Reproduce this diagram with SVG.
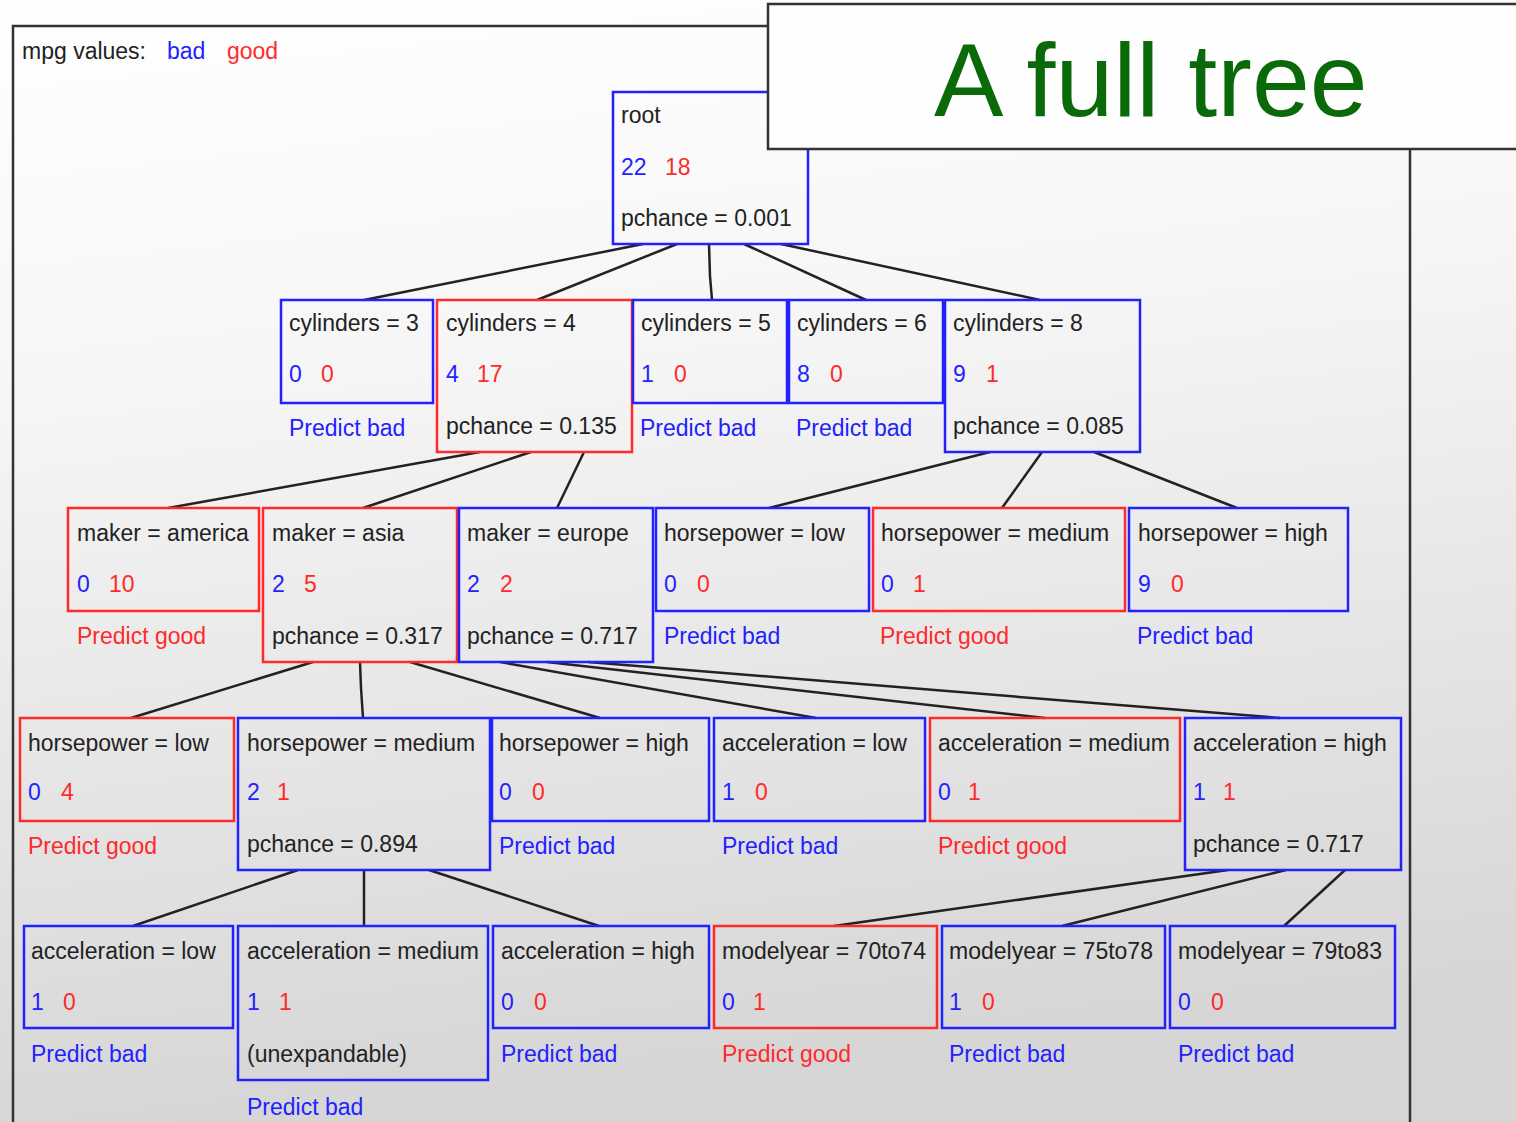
<svg xmlns="http://www.w3.org/2000/svg" width="1516" height="1122" viewBox="0 0 1516 1122">
  <defs>
    <linearGradient id="bg" x1="0" y1="0" x2="0.15" y2="1">
      <stop offset="0" stop-color="#ffffff"/>
      <stop offset="0.35" stop-color="#f6f6f6"/>
      <stop offset="1" stop-color="#d6d6d6"/>
    </linearGradient>
    <style>
      text { font-family: "Liberation Sans", Arial, sans-serif; font-size: 23px; fill: #222; }
      .b { fill: #2222ff; }
      .r { fill: #ff2a2a; }
      .nb { fill: none; stroke: #2222ff; stroke-width: 2.5; }
      .nr { fill: none; stroke: #ff2a2a; stroke-width: 2.5; }
      .edge { stroke: #222; stroke-width: 2.5; fill: none; }
      .frame { fill: none; stroke: #333; stroke-width: 2.5; }
      .title { font-size: 104px; fill: #0a6a0a; }
    </style>
  </defs>

  <!-- page background and panel frame -->
  <rect x="0" y="0" width="1516" height="1122" fill="url(#bg)"/>
  <polyline class="frame" points="13,1130 13,26 1410,26 1410,1130"/>

  <!-- legend -->
  <text x="22" y="59">mpg values:</text>
  <text class="b" x="167" y="59">bad</text>
  <text class="r" x="227" y="59">good</text>

  <!-- connectors -->
  <g id="edges">
    <line class="edge" x1="643" y1="244" x2="364" y2="300"/>
    <line class="edge" x1="677" y1="244" x2="537" y2="300"/>
    <polyline class="edge" points="709,244 710,276 712,300"/>
    <line class="edge" x1="744" y1="244" x2="866" y2="300"/>
    <line class="edge" x1="781" y1="244" x2="1040" y2="300"/>

    <line class="edge" x1="480" y1="452" x2="168" y2="508"/>
    <line class="edge" x1="531" y1="452" x2="363" y2="508"/>
    <line class="edge" x1="584" y1="452" x2="557" y2="508"/>

    <line class="edge" x1="990" y1="452" x2="769" y2="508"/>
    <line class="edge" x1="1042" y1="452" x2="1002" y2="508"/>
    <line class="edge" x1="1094" y1="452" x2="1237" y2="508"/>

    <line class="edge" x1="313" y1="662" x2="131" y2="718"/>
    <polyline class="edge" points="360,662 361,688 363,718"/>
    <line class="edge" x1="410" y1="662" x2="600" y2="718"/>

    <line class="edge" x1="500" y1="662" x2="816" y2="718"/>
    <line class="edge" x1="547" y1="662" x2="1045" y2="718"/>
    <line class="edge" x1="588" y1="662" x2="1280" y2="718"/>

    <line class="edge" x1="298" y1="870" x2="133" y2="926"/>
    <line class="edge" x1="364" y1="870" x2="364" y2="926"/>
    <line class="edge" x1="429" y1="870" x2="599" y2="926"/>

    <line class="edge" x1="1228" y1="870" x2="834" y2="926"/>
    <line class="edge" x1="1286" y1="870" x2="1062" y2="926"/>
    <line class="edge" x1="1345" y1="870" x2="1284" y2="926"/>
  </g>

  <!-- level 0 -->
  <g id="root">
    <rect class="nb" x="613" y="92" width="195" height="152"/>
    <text x="621" y="123">root</text>
    <text class="b" x="621" y="175">22</text>
    <text class="r" x="665" y="175">18</text>
    <text x="621" y="226">pchance = 0.001</text>
  </g>

  <!-- level 1 -->
  <g id="cyl3">
    <rect class="nb" x="281" y="300" width="152" height="103"/>
    <text x="289" y="331">cylinders = 3</text>
    <text class="b" x="289" y="382">0</text>
    <text class="r" x="321" y="382">0</text>
    <text class="b" x="289" y="436">Predict bad</text>
  </g>
  <g id="cyl4">
    <rect class="nr" x="437" y="300" width="195" height="152"/>
    <text x="446" y="331">cylinders = 4</text>
    <text class="b" x="446" y="382">4</text>
    <text class="r" x="477" y="382">17</text>
    <text x="446" y="434">pchance = 0.135</text>
  </g>
  <g id="cyl5">
    <rect class="nb" x="633" y="300" width="154" height="103"/>
    <text x="641" y="331">cylinders = 5</text>
    <text class="b" x="641" y="382">1</text>
    <text class="r" x="674" y="382">0</text>
    <text class="b" x="640" y="436">Predict bad</text>
  </g>
  <g id="cyl6">
    <rect class="nb" x="789" y="300" width="154" height="103"/>
    <text x="797" y="331">cylinders = 6</text>
    <text class="b" x="797" y="382">8</text>
    <text class="r" x="830" y="382">0</text>
    <text class="b" x="796" y="436">Predict bad</text>
  </g>
  <g id="cyl8">
    <rect class="nb" x="945" y="300" width="195" height="152"/>
    <text x="953" y="331">cylinders = 8</text>
    <text class="b" x="953" y="382">9</text>
    <text class="r" x="986" y="382">1</text>
    <text x="953" y="434">pchance = 0.085</text>
  </g>

  <!-- level 2 -->
  <g id="maker-america">
    <rect class="nr" x="68" y="508" width="191" height="103"/>
    <text x="77" y="541">maker = america</text>
    <text class="b" x="77" y="592">0</text>
    <text class="r" x="109" y="592">10</text>
    <text class="r" x="77" y="644">Predict good</text>
  </g>
  <g id="maker-asia">
    <rect class="nr" x="263" y="508" width="194" height="154"/>
    <text x="272" y="541">maker = asia</text>
    <text class="b" x="272" y="592">2</text>
    <text class="r" x="304" y="592">5</text>
    <text x="272" y="644">pchance = 0.317</text>
  </g>
  <g id="maker-europe">
    <rect class="nb" x="459" y="508" width="194" height="154"/>
    <text x="467" y="541">maker = europe</text>
    <text class="b" x="467" y="592">2</text>
    <text class="r" x="500" y="592">2</text>
    <text x="467" y="644">pchance = 0.717</text>
  </g>
  <g id="hp-low-8">
    <rect class="nb" x="656" y="508" width="213" height="103"/>
    <text x="664" y="541">horsepower = low</text>
    <text class="b" x="664" y="592">0</text>
    <text class="r" x="697" y="592">0</text>
    <text class="b" x="664" y="644">Predict bad</text>
  </g>
  <g id="hp-medium-8">
    <rect class="nr" x="873" y="508" width="252" height="103"/>
    <text x="881" y="541">horsepower = medium</text>
    <text class="b" x="881" y="592">0</text>
    <text class="r" x="913" y="592">1</text>
    <text class="r" x="880" y="644">Predict good</text>
  </g>
  <g id="hp-high-8">
    <rect class="nb" x="1129" y="508" width="219" height="103"/>
    <text x="1138" y="541">horsepower = high</text>
    <text class="b" x="1138" y="592">9</text>
    <text class="r" x="1171" y="592">0</text>
    <text class="b" x="1137" y="644">Predict bad</text>
  </g>

  <!-- level 3 -->
  <g id="hp-low-asia">
    <rect class="nr" x="20" y="718" width="214" height="103"/>
    <text x="28" y="751">horsepower = low</text>
    <text class="b" x="28" y="800">0</text>
    <text class="r" x="61" y="800">4</text>
    <text class="r" x="28" y="854">Predict good</text>
  </g>
  <g id="hp-medium-asia">
    <rect class="nb" x="238" y="718" width="252" height="152"/>
    <text x="247" y="751">horsepower = medium</text>
    <text class="b" x="247" y="800">2</text>
    <text class="r" x="277" y="800">1</text>
    <text x="247" y="852">pchance = 0.894</text>
  </g>
  <g id="hp-high-asia">
    <rect class="nb" x="492" y="718" width="217" height="103"/>
    <text x="499" y="751">horsepower = high</text>
    <text class="b" x="499" y="800">0</text>
    <text class="r" x="532" y="800">0</text>
    <text class="b" x="499" y="854">Predict bad</text>
  </g>
  <g id="acc-low-europe">
    <rect class="nb" x="714" y="718" width="211" height="103"/>
    <text x="722" y="751">acceleration = low</text>
    <text class="b" x="722" y="800">1</text>
    <text class="r" x="755" y="800">0</text>
    <text class="b" x="722" y="854">Predict bad</text>
  </g>
  <g id="acc-medium-europe">
    <rect class="nr" x="930" y="718" width="250" height="103"/>
    <text x="938" y="751">acceleration = medium</text>
    <text class="b" x="938" y="800">0</text>
    <text class="r" x="968" y="800">1</text>
    <text class="r" x="938" y="854">Predict good</text>
  </g>
  <g id="acc-high-europe">
    <rect class="nb" x="1185" y="718" width="216" height="152"/>
    <text x="1193" y="751">acceleration = high</text>
    <text class="b" x="1193" y="800">1</text>
    <text class="r" x="1223" y="800">1</text>
    <text x="1193" y="852">pchance = 0.717</text>
  </g>

  <!-- level 4 -->
  <g id="acc-low-hp">
    <rect class="nb" x="24" y="926" width="209" height="102"/>
    <text x="31" y="959">acceleration = low</text>
    <text class="b" x="31" y="1010">1</text>
    <text class="r" x="63" y="1010">0</text>
    <text class="b" x="31" y="1062">Predict bad</text>
  </g>
  <g id="acc-medium-hp">
    <rect class="nb" x="238" y="926" width="250" height="154"/>
    <text x="247" y="959">acceleration = medium</text>
    <text class="b" x="247" y="1010">1</text>
    <text class="r" x="279" y="1010">1</text>
    <text x="247" y="1062">(unexpandable)</text>
    <text class="b" x="247" y="1115">Predict bad</text>
  </g>
  <g id="acc-high-hp">
    <rect class="nb" x="493" y="926" width="216" height="102"/>
    <text x="501" y="959">acceleration = high</text>
    <text class="b" x="501" y="1010">0</text>
    <text class="r" x="534" y="1010">0</text>
    <text class="b" x="501" y="1062">Predict bad</text>
  </g>
  <g id="my-70to74">
    <rect class="nr" x="714" y="926" width="223" height="102"/>
    <text x="722" y="959">modelyear = 70to74</text>
    <text class="b" x="722" y="1010">0</text>
    <text class="r" x="753" y="1010">1</text>
    <text class="r" x="722" y="1062">Predict good</text>
  </g>
  <g id="my-75to78">
    <rect class="nb" x="942" y="926" width="223" height="102"/>
    <text x="949" y="959">modelyear = 75to78</text>
    <text class="b" x="949" y="1010">1</text>
    <text class="r" x="982" y="1010">0</text>
    <text class="b" x="949" y="1062">Predict bad</text>
  </g>
  <g id="my-79to83">
    <rect class="nb" x="1170" y="926" width="225" height="102"/>
    <text x="1178" y="959">modelyear = 79to83</text>
    <text class="b" x="1178" y="1010">0</text>
    <text class="r" x="1211" y="1010">0</text>
    <text class="b" x="1178" y="1062">Predict bad</text>
  </g>

  <!-- title card -->
  <g id="title">
    <rect x="768" y="4" width="760" height="145" fill="#fefefe" stroke="#333" stroke-width="2.5"/>
    <text class="title" x="934" y="116">A full tree</text>
  </g>
</svg>
